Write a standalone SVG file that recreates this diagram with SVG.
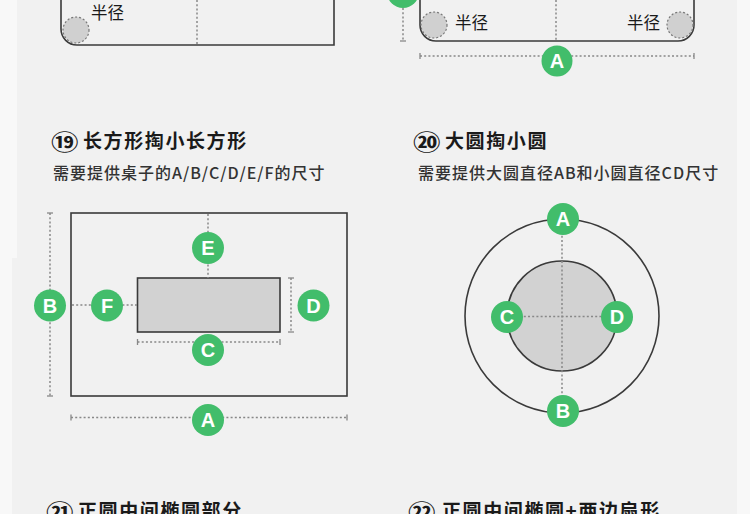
<svg xmlns="http://www.w3.org/2000/svg" width="750" height="514" viewBox="0 0 750 514">
<style>
.bg{fill:#f1f1f1}
.edge{fill:#f8f8f8}
.shape{fill:none;stroke:#3a3a3a;stroke-width:1.6}
.fillg{fill:#d2d2d2;stroke:#3a3a3a;stroke-width:1.6}
.corner{fill:#d0d0d0;stroke:#777;stroke-width:1.2;stroke-dasharray:2 2}
.dot{fill:none;stroke:#888;stroke-width:1.5;stroke-dasharray:2 2.2}
.tick{stroke:#888;stroke-width:1.3}
.badge{fill:#42bd6b}
.bl{font-family:"Liberation Sans",Arial,sans-serif;font-weight:bold;font-size:20px;fill:#fff;text-anchor:middle}
.num{font-family:"Noto Sans CJK SC","Noto Sans",sans-serif;font-weight:bold;font-size:22px;fill:#1a1a1a}
.title{font-family:"Noto Sans CJK SC","Noto Sans",sans-serif;font-weight:bold;font-size:19px;fill:#1a1a1a;letter-spacing:1.6px}
.sub{font-family:"Noto Sans CJK SC","Noto Sans",sans-serif;font-weight:500;font-size:16px;fill:#333;letter-spacing:1px}
.lbl{font-family:"Noto Sans CJK SC","Noto Sans",sans-serif;font-size:16.5px;fill:#1a1a1a}
</style>
<rect class="edge" x="0" y="0" width="750" height="514"/>
<rect class="bg" x="17" y="0" width="720" height="258"/>
<rect class="bg" x="12" y="258" width="725" height="256"/>

<g id="top-left-shape">
  <path class="shape" d="M61,-2 V29 A16,16 0 0 0 77,45 H334 V-2"/>
  <circle class="corner" cx="76" cy="30" r="13"/>
  <text class="lbl" x="91" y="19">半径</text>
</g>

<g id="top-right-shape">
  <path class="shape" d="M420,-2 V25 A16,16 0 0 0 436,41 H678 A16,16 0 0 0 694,25 V-2"/>
  <circle class="corner" cx="434" cy="25" r="13"/>
  <circle class="corner" cx="680" cy="25" r="13"/>
  <text class="lbl" x="455" y="29">半径</text>
  <text class="lbl" x="627" y="29">半径</text>
</g>

<g id="title-19">
  <text class="num" transform="translate(51,150) scale(1.25,1)">⑲</text>
  <text class="title" x="83" y="148">长方形掏小长方形</text>
  <text class="sub" x="53" y="179">需要提供桌子的A/B/C/D/E/F的尺寸</text>
</g>
<g id="title-20">
  <text class="num" transform="translate(413,150) scale(1.25,1)">⑳</text>
  <text class="title" x="445" y="148">大圆掏小圆</text>
  <text class="sub" x="418" y="179">需要提供大圆直径AB和小圆直径CD尺寸</text>
</g>

<g id="rect-diagram">
  <rect class="shape" x="71" y="213" width="276" height="183"/>
  <rect class="fillg" x="137.5" y="278" width="142.5" height="54"/>
</g>

<g id="circle-diagram">
  <circle class="shape" cx="562" cy="316" r="97"/>
  <circle class="fillg" cx="562" cy="316" r="55"/>
</g>

<g id="connectors">
  <line class="dot" x1="197" y1="0" x2="197" y2="45"/>
  <line class="dot" x1="556" y1="0" x2="556" y2="41"/>
  <line class="dot" x1="403" y1="8" x2="403" y2="41"/>
  <line class="tick" x1="400" y1="41" x2="406" y2="41"/>
  <line class="dot" x1="420" y1="56" x2="694" y2="56"/>
  <line class="tick" x1="420" y1="53" x2="420" y2="59"/>
  <line class="tick" x1="694" y1="53" x2="694" y2="59"/>
  <line class="dot" x1="208" y1="214" x2="208" y2="278"/>
  <line class="dot" x1="50" y1="213" x2="50" y2="396"/>
  <line class="tick" x1="47" y1="213" x2="53" y2="213"/>
  <line class="tick" x1="47" y1="396" x2="53" y2="396"/>
  <line class="dot" x1="72" y1="305" x2="137" y2="305"/>
  <line class="dot" x1="291" y1="278" x2="291" y2="332"/>
  <line class="tick" x1="288" y1="278" x2="294" y2="278"/>
  <line class="tick" x1="288" y1="332" x2="294" y2="332"/>
  <line class="dot" x1="137.5" y1="342" x2="280" y2="342"/>
  <line class="tick" x1="137.5" y1="339" x2="137.5" y2="345"/>
  <line class="tick" x1="280" y1="339" x2="280" y2="345"/>
  <line class="dot" x1="71" y1="417.5" x2="347" y2="417.5"/>
  <line class="tick" x1="71" y1="414.5" x2="71" y2="420.5"/>
  <line class="tick" x1="347" y1="414.5" x2="347" y2="420.5"/>
  <line class="dot" x1="562" y1="219" x2="562" y2="411"/>
  <line class="dot" x1="507" y1="316.5" x2="617" y2="316.5"/>
</g>

<g id="badges-top">
  <circle class="badge" cx="403" cy="-8" r="16"/>
  <circle class="badge" cx="557" cy="61" r="15.5"/>
  <text class="bl" x="557" y="68">A</text>
</g>

<g id="badges-rect">
  <circle class="badge" cx="208" cy="248" r="16"/><text class="bl" x="208" y="255">E</text>
  <circle class="badge" cx="50" cy="305.5" r="16"/><text class="bl" x="50" y="312.5">B</text>
  <circle class="badge" cx="107" cy="305.5" r="16"/><text class="bl" x="107" y="312.5">F</text>
  <circle class="badge" cx="313.5" cy="305.5" r="16"/><text class="bl" x="313.5" y="312.5">D</text>
  <circle class="badge" cx="208" cy="350" r="16"/><text class="bl" x="208" y="357">C</text>
  <circle class="badge" cx="208" cy="420" r="16"/><text class="bl" x="208" y="427">A</text>
</g>

<g id="badges-circle">
  <circle class="badge" cx="563" cy="219" r="16"/><text class="bl" x="563" y="226">A</text>
  <circle class="badge" cx="563" cy="411" r="16"/><text class="bl" x="563" y="418">B</text>
  <circle class="badge" cx="507" cy="317" r="16"/><text class="bl" x="507" y="324">C</text>
  <circle class="badge" cx="617" cy="317" r="16"/><text class="bl" x="617" y="324">D</text>
</g>

<g id="title-21">
  <text class="num" transform="translate(46,520) scale(1.25,1)">㉑</text>
  <text class="title" x="78" y="518">正圆中间椭圆部分</text>
</g>
<g id="title-22">
  <text class="num" transform="translate(408,520) scale(1.25,1)">㉒</text>
  <text class="title" x="442" y="518">正圆中间椭圆+两边扇形</text>
</g>
</svg>
